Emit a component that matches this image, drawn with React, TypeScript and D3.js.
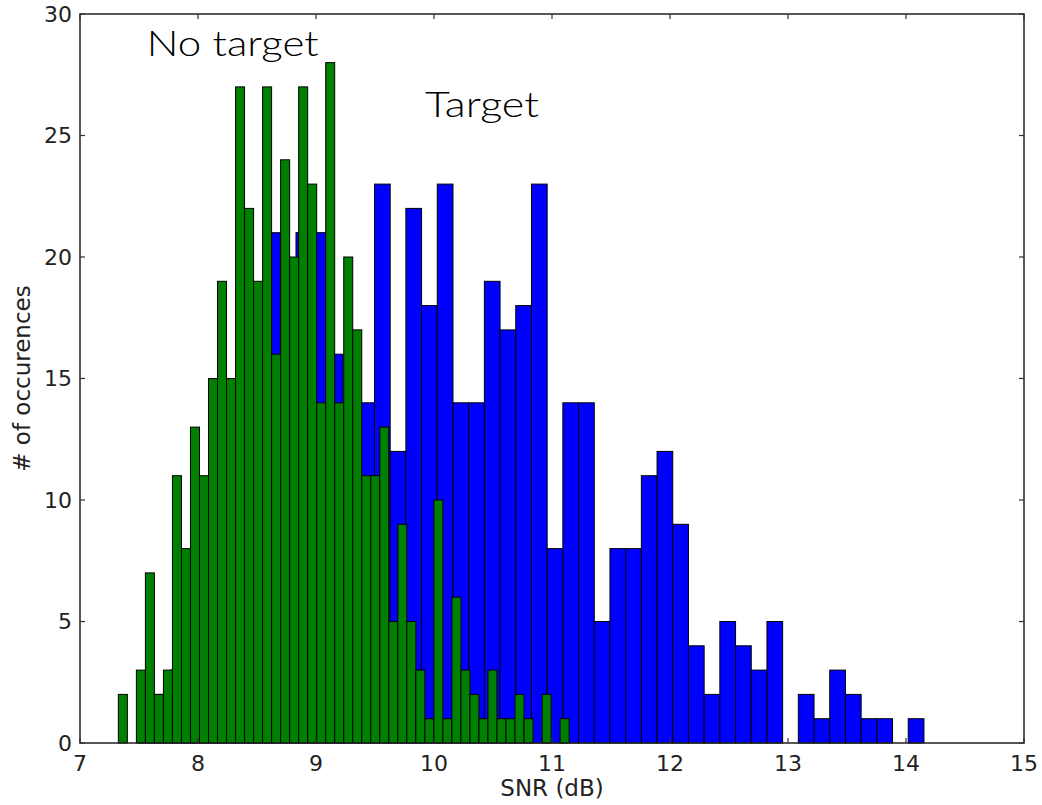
import React from "react";
import * as d3 from "d3";

// Histogram of SNR values: two sets, each binned into 50 equal bins over its own range.
const targetRange: [number, number] = [7.5, 14.152];
const targetCounts = [
  1, 2, 3, 5, 7, 9, 12, 14, 21, 14,
  21, 21, 16, 14, 14, 23, 12, 22, 18, 23,
  14, 14, 19, 17, 18, 23, 8, 14, 14, 5,
  8, 8, 11, 12, 9, 4, 2, 5, 4, 3,
  5, 0, 2, 1, 3, 2, 1, 1, 0, 1,
];

const noTargetRange: [number, number] = [7.325, 11.145];
const noTargetCounts = [
  2, 0, 3, 7, 2, 3, 11, 8, 13, 11,
  15, 19, 15, 27, 22, 19, 27, 16, 24, 20,
  27, 23, 14, 28, 14, 20, 17, 11, 11, 13,
  5, 9, 5, 3, 1, 10, 1, 6, 3, 2,
  1, 3, 1, 1, 2, 1, 0, 2, 0, 1,
];

const xTicks = [7, 8, 9, 10, 11, 12, 13, 14, 15];
const yTicks = [0, 5, 10, 15, 20, 25, 30];

// Annotation anchors, in data coordinates (x = SNR, y = count).
const annotations = [
  { text: "No target", x: 7.565, y: 28.28, length: 172 },
  { text: "Target", x: 9.924, y: 25.77, length: 114 },
];

const W = 1042;
const H = 805;
const margin = { left: 80, right: 18, top: 14, bottom: 62 };

type Bin = { x0: number; x1: number; count: number };

function toBins(range: [number, number], counts: number[]): Bin[] {
  const w = (range[1] - range[0]) / counts.length;
  return counts.map((count, i) => ({
    x0: range[0] + i * w,
    x1: range[0] + (i + 1) * w,
    count,
  }));
}

export default function App() {
  const x = d3.scaleLinear().domain([7, 15]).range([margin.left, W - margin.right]);
  const y = d3.scaleLinear().domain([0, 30]).range([H - margin.bottom, margin.top]);

  const series = [
    { bins: toBins(targetRange, targetCounts), fill: "#0000ff" },
    { bins: toBins(noTargetRange, noTargetCounts), fill: "#008000" },
  ];

  const x0 = x(7);
  const x1 = x(15);
  const y0 = y(0);
  const y1 = y(30);
  const tickLen = 5;
  const tickColor = "#333";
  const labelFont = "'DejaVu Sans', sans-serif";

  return (
    <svg
      width={W}
      height={H}
      style={{ position: "absolute", left: 0, top: 0, background: "#fff" }}
    >
      <rect x={0} y={0} width={W} height={H} fill="#fff" />

      {series.map((s, si) => (
        <g key={si}>
          {s.bins
            .filter((b) => b.count > 0)
            .map((b, i) => (
              <rect
                key={i}
                x={x(b.x0)}
                y={y(b.count)}
                width={x(b.x1) - x(b.x0)}
                height={y(0) - y(b.count)}
                fill={s.fill}
                stroke="#000"
                strokeWidth={1}
              />
            ))}
        </g>
      ))}

      {/* frame */}
      <rect
        x={x0}
        y={y1}
        width={x1 - x0}
        height={y0 - y1}
        fill="none"
        stroke="#222"
        strokeWidth={1.5}
      />

      {/* x ticks, inward on bottom and top */}
      {xTicks.map((t) => (
        <g key={`xt${t}`}>
          <line x1={x(t)} x2={x(t)} y1={y0} y2={y0 - tickLen} stroke={tickColor} strokeWidth={1.2} />
          <line x1={x(t)} x2={x(t)} y1={y1} y2={y1 + tickLen} stroke={tickColor} strokeWidth={1.2} />
          <text
            x={x(t)}
            y={y0 + 28}
            textAnchor="middle"
            fontFamily={labelFont}
            fontSize={22}
            fill="#222"
          >
            {t}
          </text>
        </g>
      ))}

      {/* y ticks, inward on left and right */}
      {yTicks.map((t) => (
        <g key={`yt${t}`}>
          <line x1={x0} x2={x0 + tickLen} y1={y(t)} y2={y(t)} stroke={tickColor} strokeWidth={1.2} />
          <line x1={x1} x2={x1 - tickLen} y1={y(t)} y2={y(t)} stroke={tickColor} strokeWidth={1.2} />
          <text
            x={x0 - 8}
            y={y(t)}
            dy="0.35em"
            textAnchor="end"
            fontFamily={labelFont}
            fontSize={22}
            fill="#222"
          >
            {t}
          </text>
        </g>
      ))}

      <text
        x={(x0 + x1) / 2}
        y={796}
        textAnchor="middle"
        fontFamily={labelFont}
        fontSize={23}
        fill="#222"
      >
        SNR (dB)
      </text>
      <text
        transform={`translate(30, ${(y0 + y1) / 2}) rotate(-90)`}
        textAnchor="middle"
        fontFamily={labelFont}
        fontSize={23}
        fill="#222"
      >
        # of occurences
      </text>

      {annotations.map((a) => (
        <text
          key={a.text}
          x={x(a.x)}
          y={y(a.y)}
          fontFamily="'Lato', 'Open Sans', sans-serif"
          fontWeight={300}
          fontSize={36}
          textLength={a.length}
          lengthAdjust="spacingAndGlyphs"
          fill="#000"
        >
          {a.text}
        </text>
      ))}
    </svg>
  );
}
